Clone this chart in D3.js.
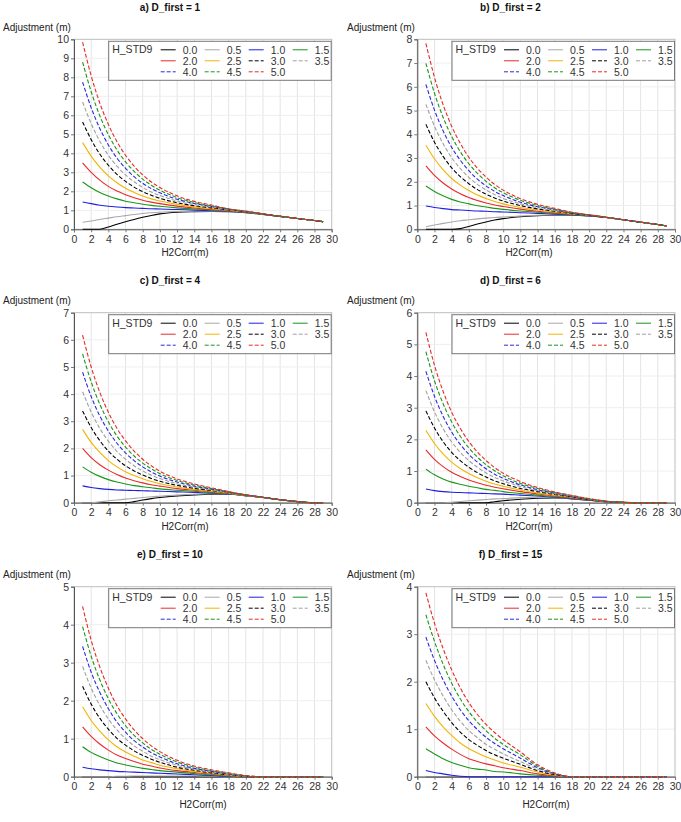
<!DOCTYPE html>
<html><head><meta charset="utf-8">
<script src="https://cdn.jsdelivr.net/npm/d3@7"></script>
<style>
body{margin:0;background:#fff}
svg{display:block}
text{font-family:"Liberation Sans",Arial,sans-serif}
</style>
</head><body>
<svg id="chart" width="681" height="822"></svg>
<script>
// H2Corr (m) sample positions
const h2corr = [1,2,3,4,5,6,7,8,9,10,12,14,16,18,20,22,24,26,28,29];
// H_STD9 levels (legend labels)
const hstdLabels = ["0.0","0.5","1.0","1.5","2.0","2.5","3.0","3.5","4.0","4.5","5.0"];
const xTicks = [0,2,4,6,8,10,12,14,16,18,20,22,24,26,28,30];

const panelTitles = ["a) D_first = 1","b) D_first = 2","c) D_first = 4","d) D_first = 6","e) D_first = 10","f) D_first = 15"];
const panelYMax = [10,8,7,6,5,4];

const adjA = [
 [0,0,0,0.12,0.27,0.4,0.52,0.63,0.73,0.81,0.9,0.93,0.94,0.93,0.88,0.78,0.68,0.57,0.46,0.4],
 [0.37,0.44,0.52,0.59,0.66,0.72,0.78,0.83,0.87,0.9,0.94,0.95,0.95,0.94,0.89,0.78,0.68,0.57,0.46,0.4],
 [1.44,1.35,1.27,1.21,1.17,1.14,1.12,1.1,1.08,1.07,1.04,1.01,0.98,0.95,0.9,0.79,0.68,0.57,0.46,0.4],
 [2.49,2.19,1.94,1.75,1.6,1.48,1.4,1.32,1.26,1.21,1.13,1.07,1.02,0.97,0.91,0.79,0.68,0.57,0.46,0.4],
 [3.5,3.0,2.59,2.26,2.01,1.82,1.66,1.53,1.43,1.35,1.22,1.12,1.05,0.98,0.91,0.8,0.68,0.57,0.46,0.4],
 [4.56,3.85,3.27,2.81,2.45,2.16,1.94,1.75,1.6,1.49,1.31,1.18,1.09,1.0,0.92,0.8,0.68,0.57,0.46,0.4],
 [5.65,4.72,3.96,3.37,2.89,2.52,2.22,1.98,1.79,1.63,1.4,1.24,1.13,1.02,0.93,0.8,0.68,0.57,0.46,0.4],
 [6.7,5.56,4.64,3.9,3.32,2.86,2.5,2.2,1.96,1.78,1.49,1.3,1.17,1.03,0.94,0.81,0.68,0.57,0.46,0.4],
 [7.75,6.4,5.31,4.44,3.75,3.21,2.77,2.42,2.14,1.92,1.58,1.36,1.2,1.05,0.94,0.81,0.68,0.57,0.46,0.4],
 [8.8,7.24,5.98,4.98,4.18,3.55,3.05,2.64,2.32,2.06,1.67,1.41,1.24,1.07,0.95,0.81,0.68,0.57,0.46,0.4],
 [9.85,8.08,6.65,5.52,4.61,3.9,3.32,2.86,2.49,2.2,1.76,1.47,1.28,1.08,0.96,0.82,0.68,0.57,0.46,0.4]
];
const adjB = [
 [0,0,0,0,0.03,0.12,0.22,0.31,0.39,0.45,0.53,0.57,0.59,0.59,0.56,0.5,0.4,0.3,0.2,0.14],
 [0.11,0.18,0.25,0.31,0.36,0.4,0.44,0.47,0.5,0.52,0.56,0.59,0.6,0.6,0.57,0.5,0.4,0.3,0.2,0.14],
 [0.98,0.92,0.87,0.83,0.81,0.79,0.77,0.76,0.74,0.73,0.7,0.67,0.64,0.61,0.57,0.5,0.4,0.3,0.2,0.14],
 [1.82,1.59,1.41,1.26,1.15,1.07,0.99,0.94,0.88,0.84,0.77,0.72,0.67,0.62,0.58,0.5,0.4,0.3,0.2,0.14],
 [2.67,2.27,1.95,1.7,1.5,1.34,1.21,1.11,1.02,0.96,0.85,0.76,0.7,0.64,0.58,0.5,0.4,0.3,0.2,0.14],
 [3.54,2.97,2.51,2.14,1.86,1.63,1.44,1.3,1.17,1.07,0.92,0.81,0.73,0.65,0.59,0.5,0.4,0.3,0.2,0.14],
 [4.42,3.67,3.07,2.59,2.22,1.92,1.67,1.48,1.32,1.19,1.0,0.86,0.76,0.66,0.59,0.5,0.4,0.3,0.2,0.14],
 [5.26,4.34,3.61,3.02,2.56,2.19,1.89,1.66,1.46,1.3,1.07,0.91,0.79,0.68,0.6,0.51,0.4,0.3,0.2,0.14],
 [6.1,5.02,4.15,3.45,2.91,2.47,2.11,1.83,1.6,1.42,1.14,0.95,0.82,0.69,0.6,0.51,0.4,0.3,0.2,0.14],
 [6.99,5.73,4.72,3.91,3.27,2.76,2.35,2.02,1.75,1.54,1.22,1.0,0.85,0.7,0.61,0.51,0.4,0.3,0.2,0.14],
 [7.83,6.4,5.25,4.34,3.62,3.03,2.57,2.2,1.89,1.65,1.29,1.05,0.88,0.72,0.61,0.51,0.4,0.3,0.2,0.14]
];
const adjC = [
 [0,0,0,0,0,0,0.04,0.1,0.15,0.19,0.25,0.29,0.31,0.31,0.26,0.19,0.11,0.04,0,0],
 [0,0,0.03,0.07,0.1,0.13,0.16,0.19,0.22,0.24,0.28,0.31,0.33,0.32,0.26,0.19,0.11,0.04,0,0],
 [0.62,0.56,0.52,0.49,0.47,0.46,0.45,0.44,0.43,0.42,0.4,0.38,0.35,0.32,0.26,0.19,0.11,0.04,0,0],
 [1.32,1.12,0.97,0.85,0.76,0.69,0.63,0.59,0.55,0.51,0.46,0.42,0.37,0.33,0.26,0.19,0.11,0.04,0,0],
 [2.0,1.66,1.4,1.2,1.04,0.91,0.81,0.73,0.66,0.61,0.52,0.46,0.4,0.34,0.27,0.19,0.11,0.04,0,0],
 [2.7,2.22,1.85,1.55,1.32,1.14,1.0,0.88,0.78,0.7,0.58,0.49,0.42,0.35,0.27,0.19,0.11,0.04,0,0],
 [3.38,2.77,2.29,1.9,1.6,1.36,1.17,1.02,0.89,0.79,0.64,0.53,0.45,0.36,0.28,0.2,0.11,0.04,0,0],
 [4.09,3.34,2.74,2.27,1.89,1.6,1.36,1.17,1.01,0.89,0.7,0.57,0.47,0.37,0.28,0.2,0.11,0.04,0,0],
 [4.81,3.91,3.2,2.64,2.19,1.83,1.55,1.32,1.13,0.98,0.76,0.61,0.5,0.39,0.29,0.2,0.11,0.04,0,0],
 [5.48,4.45,3.63,2.98,2.46,2.05,1.72,1.46,1.25,1.07,0.82,0.65,0.52,0.4,0.29,0.2,0.11,0.04,0,0],
 [6.17,5.0,4.07,3.33,2.74,2.28,1.9,1.6,1.36,1.16,0.88,0.69,0.55,0.41,0.29,0.2,0.11,0.04,0,0]
];
const adjD = [
 [0,0,0,0,0,0,0,0,0.03,0.06,0.11,0.14,0.15,0.12,0.08,0.03,0.005,0,0,0],
 [0,0,0,0.01,0.04,0.06,0.08,0.1,0.12,0.13,0.16,0.17,0.16,0.12,0.08,0.03,0.005,0,0,0],
 [0.43,0.38,0.35,0.33,0.32,0.31,0.3,0.29,0.28,0.27,0.24,0.21,0.17,0.13,0.08,0.03,0.005,0,0,0],
 [1.06,0.88,0.75,0.65,0.58,0.52,0.47,0.42,0.39,0.35,0.29,0.24,0.19,0.14,0.09,0.03,0.01,0,0,0],
 [1.67,1.37,1.14,0.96,0.83,0.72,0.63,0.55,0.49,0.44,0.35,0.28,0.21,0.15,0.09,0.04,0.01,0,0,0],
 [2.29,1.87,1.54,1.28,1.08,0.92,0.79,0.68,0.59,0.52,0.4,0.31,0.24,0.17,0.1,0.04,0.01,0,0,0],
 [2.9,2.36,1.93,1.59,1.33,1.12,0.95,0.81,0.69,0.6,0.45,0.35,0.26,0.18,0.1,0.04,0.01,0,0,0],
 [3.54,2.87,2.34,1.92,1.59,1.33,1.12,0.94,0.8,0.69,0.51,0.38,0.28,0.19,0.11,0.04,0.01,0,0,0],
 [4.15,3.36,2.73,2.23,1.84,1.53,1.28,1.07,0.9,0.77,0.56,0.41,0.3,0.2,0.12,0.04,0.01,0,0,0],
 [4.77,3.85,3.13,2.55,2.1,1.73,1.44,1.2,1.01,0.85,0.61,0.45,0.32,0.22,0.12,0.05,0.01,0,0,0],
 [5.38,4.34,3.52,2.86,2.35,1.93,1.6,1.33,1.11,0.93,0.67,0.48,0.34,0.23,0.13,0.05,0.01,0,0,0]
];
const adjE = [
 [0,0,0,0,0,0,0,0,0,0,0,0,0,0,0,0,0,0,0,0],
 [0,0,0,0,0.01,0.01,0.02,0.02,0.02,0.02,0.02,0.02,0.01,0,0,0,0,0,0,0],
 [0.25,0.21,0.18,0.16,0.14,0.13,0.12,0.11,0.1,0.09,0.07,0.05,0.03,0.01,0,0,0,0,0,0],
 [0.79,0.64,0.53,0.44,0.36,0.31,0.26,0.22,0.19,0.16,0.12,0.08,0.05,0.02,0,0,0,0,0,0],
 [1.31,1.06,0.86,0.7,0.57,0.48,0.4,0.33,0.28,0.23,0.16,0.11,0.07,0.03,0,0,0,0,0,0],
 [1.84,1.48,1.2,0.97,0.79,0.65,0.54,0.44,0.37,0.3,0.21,0.14,0.09,0.04,0.01,0,0,0,0,0],
 [2.38,1.91,1.54,1.25,1.01,0.83,0.68,0.56,0.46,0.38,0.25,0.17,0.1,0.05,0.01,0,0,0,0,0],
 [2.9,2.33,1.88,1.52,1.23,1.0,0.81,0.67,0.54,0.45,0.3,0.2,0.12,0.06,0.01,0,0,0,0,0],
 [3.43,2.75,2.22,1.79,1.44,1.17,0.95,0.78,0.63,0.52,0.34,0.22,0.14,0.07,0.02,0,0,0,0,0],
 [3.95,3.17,2.55,2.05,1.66,1.34,1.09,0.89,0.72,0.59,0.39,0.25,0.16,0.09,0.02,0,0,0,0,0],
 [4.48,3.59,2.89,2.33,1.87,1.52,1.23,1.0,0.81,0.66,0.43,0.28,0.18,0.1,0.03,0,0,0,0,0]
];
const adjF = [
 [0,0,0,0,0,0,0,0,0,0,0,0,0,0,0,0,0,0,0,0],
 [0,0,0,0,0,0,0,0,0,0,0,0,0,0,0,0,0,0,0,0],
 [0.13,0.09,0.06,0.03,0.01,0,0,0,0,0,0,0,0,0,0,0,0,0,0,0],
 [0.59,0.48,0.38,0.3,0.24,0.19,0.16,0.14,0.11,0.1,0.06,0.03,0.01,0,0,0,0,0,0,0],
 [1.05,0.86,0.71,0.58,0.47,0.38,0.32,0.27,0.23,0.19,0.13,0.06,0.02,0,0,0,0,0,0,0],
 [1.54,1.27,1.05,0.87,0.71,0.59,0.5,0.42,0.35,0.29,0.2,0.1,0.03,0,0,0,0,0,0,0],
 [2.0,1.66,1.38,1.14,0.94,0.78,0.66,0.55,0.46,0.39,0.26,0.13,0.04,0,0,0,0,0,0,0],
 [2.45,2.04,1.7,1.41,1.17,0.97,0.82,0.68,0.58,0.48,0.32,0.16,0.05,0,0,0,0,0,0,0],
 [2.94,2.45,2.04,1.7,1.41,1.18,0.99,0.83,0.7,0.59,0.39,0.19,0.06,0,0,0,0,0,0,0],
 [3.41,2.85,2.37,1.97,1.64,1.37,1.15,0.97,0.81,0.68,0.46,0.22,0.07,0,0,0,0,0,0,0],
 [3.87,3.23,2.7,2.25,1.87,1.56,1.31,1.1,0.93,0.78,0.52,0.25,0.08,0,0,0,0,0,0,0]
];
const panelData = [adjA, adjB, adjC, adjD, adjE, adjF];

// styles per H_STD9 level
const seriesColor = ["#000000","#a8a8a8","#1f1fe0","#1a961a","#e82a2a","#f2b400",
                     "#000000","#a0a0a0","#2a2ae0","#1a961a","#e82a2a"];
const seriesDash = [null,null,null,null,null,null,"4,2","4,2","4,2","4,2","4,2"];

const svg = d3.select("#chart");
const colLeft = [74, 417.3];
const rowTop = [39.3, 312.7, 586.7];
const plotW = 257.7, plotH = 190;
// x-label placement per panel (centre x, offset below plot)
const xLabelX = [185, 529, 185, 529, 203, 546];
const xLabelDy = [27, 27, 27, 27, 31.5, 31.5];

panelData.forEach((data, p) => {
  const col = p % 2, row = Math.floor(p / 2);
  const L = colLeft[col], T = rowTop[row];
  const g = svg.append("g").attr("transform", `translate(${L},${T})`);
  const x = d3.scaleLinear().domain([0, 30]).range([0, plotW]);
  const y = d3.scaleLinear().domain([0, panelYMax[p]]).range([plotH, 0]);

  // gridlines
  g.append("g").selectAll("line.v").data(xTicks.filter(t => t > 0 && t < 30)).join("line")
    .attr("x1", d => x(d)).attr("x2", d => x(d)).attr("y1", 0).attr("y2", plotH)
    .attr("stroke", "#e4e4e4").attr("stroke-width", 1);
  g.append("g").selectAll("line.h").data(d3.range(1, panelYMax[p])).join("line")
    .attr("x1", 0).attr("x2", plotW).attr("y1", d => y(d)).attr("y2", d => y(d))
    .attr("stroke", "#eeeeee").attr("stroke-width", 1);
  // frame
  g.append("rect").attr("x", 0).attr("y", 0).attr("width", plotW).attr("height", plotH)
    .attr("fill", "none").attr("stroke", "#bdbdbd");

  // axes
  const xa = g.append("g").attr("transform", `translate(0,${plotH})`)
    .call(d3.axisBottom(x).tickValues(xTicks).tickSize(3).tickPadding(3));
  const ya = g.append("g")
    .call(d3.axisLeft(y).ticks(panelYMax[p]).tickFormat(d3.format("d")).tickSize(3).tickPadding(2));
  [xa, ya].forEach(a => {
    a.select(".domain").attr("stroke", "#555");
    a.selectAll(".tick line").attr("stroke", "#777");
    a.selectAll("text").attr("font-size", 10.5).attr("fill", "#333")
      .attr("font-family", "'Liberation Sans', Arial, sans-serif");
  });

  // lines
  const line = d3.line().x((d, i) => x(h2corr[i])).y(d => y(d)).curve(d3.curveMonotoneX);
  g.append("g").selectAll("path").data(data).join("path")
    .attr("d", d => line(d))
    .attr("fill", "none")
    .attr("stroke", (d, i) => seriesColor[i])
    .attr("stroke-width", 1.1)
    .attr("stroke-dasharray", (d, i) => seriesDash[i]);

  // legend
  const lg = g.append("g").attr("transform", `translate(${plotW - 223},2)`);
  lg.append("rect").attr("width", 222.5).attr("height", 39)
    .attr("fill", "#fff").attr("stroke", "#777");
  lg.append("text").attr("x", 3.5).attr("y", 12).attr("font-size", 10.5).attr("fill", "#333").text("H_STD9");
  hstdLabels.forEach((lab, i) => {
    const c = i % 4, r = Math.floor(i / 4);
    const cy = 8.5 + r * 11;
    lg.append("line").attr("x1", 52 + c * 44).attr("x2", 67 + c * 44)
      .attr("y1", cy).attr("y2", cy)
      .attr("stroke", seriesColor[i]).attr("stroke-width", 1)
      .attr("stroke-dasharray", seriesDash[i]);
    lg.append("text").attr("x", 74 + c * 44).attr("y", cy + 3.8)
      .attr("font-size", 10.5).attr("fill", "#333").text(lab);
  });

  // labels
  svg.append("text").attr("x", col * 340.5 + 170).attr("y", T - 28.5)
    .attr("text-anchor", "middle").attr("font-size", 10).attr("font-weight", "bold")
    .attr("fill", "#111").text(panelTitles[p]);
  svg.append("text").attr("x", col === 0 ? 3 : 347).attr("y", T - 8.8)
    .attr("font-size", 10).attr("fill", "#222").text("Adjustment (m)");
  svg.append("text").attr("x", xLabelX[p]).attr("y", T + plotH + xLabelDy[p])
    .attr("text-anchor", "middle").attr("font-size", 10).attr("fill", "#222").text("H2Corr(m)");
});
</script>
</body></html>
